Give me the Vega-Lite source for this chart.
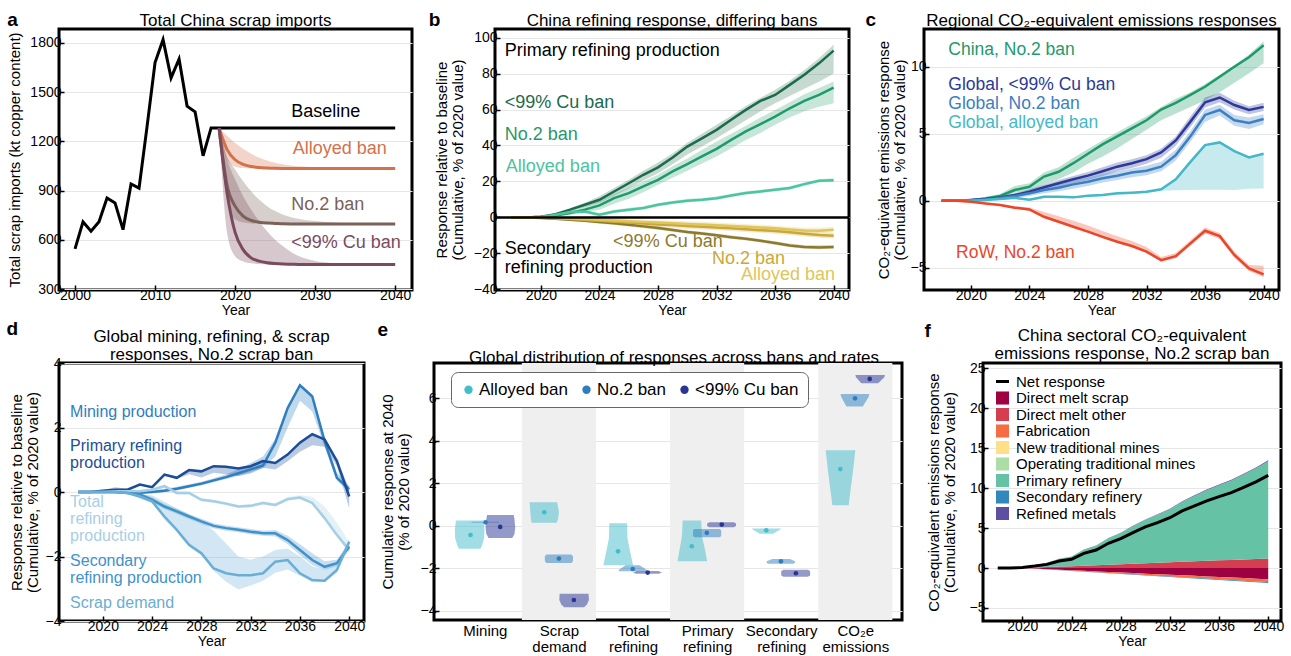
{
"$schema":"https://vega.github.io/schema/vega-lite/v6.json",
"padding":{"left":6,"top":10,"right":0,"bottom":0},
"config":{
 "font":"Liberation Sans",
 "view":{"stroke":"#000000","strokeWidth":3},
 "axis":{"domain":false,"tickColor":"#000000","tickSize":-5,"tickWidth":1.5,"labelPadding":3,"labelFontSize":14,"labelColor":"#000000","titleFontSize":15,"titleFontWeight":"normal","titleColor":"#000000","gridColor":"#e6e6e6","gridWidth":1,"titleLineHeight":16},
 "axisX":{"grid":false,"titleFontSize":14,"titlePadding":1},
 "axisY":{"grid":true,"titlePadding":2,"labelOverlap":false},
 "title":{"fontSize":17,"fontWeight":"normal","color":"#000000","offset":2,"lineHeight":18}
},
"datasets":{
 "a_hist":[{"year":2000,"v":545},{"year":2001,"v":710},{"year":2002,"v":652},{"year":2003,"v":710},{"year":2004,"v":855},{"year":2005,"v":825},{"year":2006,"v":662},{"year":2007,"v":940},{"year":2008,"v":915},{"year":2009,"v":1290},{"year":2010,"v":1680},{"year":2011,"v":1820},{"year":2012,"v":1587},{"year":2013,"v":1702},{"year":2014,"v":1415},{"year":2015,"v":1380},{"year":2016,"v":1112},{"year":2017,"v":1282},{"year":2018,"v":1282},{"year":2040,"v":1282}],
 "a_proj":[
 {"year":2018,"s":"Alloyed ban","v":1280,"lo":1280,"hi":1280},{"year":2019,"s":"Alloyed ban","v":1150,"lo":1085,"hi":1235},{"year":2020,"s":"Alloyed ban","v":1088,"lo":1045,"hi":1190},{"year":2021,"s":"Alloyed ban","v":1060,"lo":1037,"hi":1155},{"year":2022,"s":"Alloyed ban","v":1047,"lo":1035,"hi":1125},{"year":2023,"s":"Alloyed ban","v":1041,"lo":1035,"hi":1100},{"year":2024,"s":"Alloyed ban","v":1038,"lo":1035,"hi":1083},{"year":2025,"s":"Alloyed ban","v":1036,"lo":1035,"hi":1070},{"year":2026,"s":"Alloyed ban","v":1035,"lo":1035,"hi":1060},{"year":2027,"s":"Alloyed ban","v":1035,"lo":1035,"hi":1053},{"year":2028,"s":"Alloyed ban","v":1035,"lo":1035,"hi":1048},{"year":2030,"s":"Alloyed ban","v":1035,"lo":1035,"hi":1042},{"year":2033,"s":"Alloyed ban","v":1035,"lo":1035,"hi":1038},{"year":2036,"s":"Alloyed ban","v":1035,"lo":1035,"hi":1036},{"year":2040,"s":"Alloyed ban","v":1035,"lo":1035,"hi":1035},
 {"year":2018,"s":"No.2 ban","v":1280,"lo":1280,"hi":1280},{"year":2019,"s":"No.2 ban","v":930,"lo":830,"hi":1110},{"year":2020,"s":"No.2 ban","v":805,"lo":725,"hi":1028},{"year":2021,"s":"No.2 ban","v":745,"lo":705,"hi":957},{"year":2022,"s":"No.2 ban","v":718,"lo":700,"hi":896},{"year":2023,"s":"No.2 ban","v":707,"lo":698,"hi":845},{"year":2024,"s":"No.2 ban","v":702,"lo":697,"hi":805},{"year":2025,"s":"No.2 ban","v":700,"lo":697,"hi":775},{"year":2026,"s":"No.2 ban","v":698,"lo":697,"hi":753},{"year":2027,"s":"No.2 ban","v":697,"lo":697,"hi":738},{"year":2028,"s":"No.2 ban","v":697,"lo":697,"hi":727},{"year":2030,"s":"No.2 ban","v":697,"lo":697,"hi":714},{"year":2033,"s":"No.2 ban","v":697,"lo":697,"hi":704},{"year":2036,"s":"No.2 ban","v":697,"lo":697,"hi":699},{"year":2040,"s":"No.2 ban","v":697,"lo":697,"hi":697},
 {"year":2018,"s":"<99% Cu ban","v":1280,"lo":1280,"hi":1280},{"year":2019,"s":"<99% Cu ban","v":885,"lo":640,"hi":1090},{"year":2020,"s":"<99% Cu ban","v":645,"lo":500,"hi":967},{"year":2021,"s":"<99% Cu ban","v":540,"lo":468,"hi":865},{"year":2022,"s":"<99% Cu ban","v":490,"lo":457,"hi":784},{"year":2023,"s":"<99% Cu ban","v":470,"lo":452,"hi":713},{"year":2024,"s":"<99% Cu ban","v":460,"lo":450,"hi":652},{"year":2025,"s":"<99% Cu ban","v":455,"lo":450,"hi":601},{"year":2026,"s":"<99% Cu ban","v":452,"lo":450,"hi":560},{"year":2027,"s":"<99% Cu ban","v":451,"lo":450,"hi":526},{"year":2028,"s":"<99% Cu ban","v":450,"lo":450,"hi":500},{"year":2029,"s":"<99% Cu ban","v":450,"lo":450,"hi":483},{"year":2030,"s":"<99% Cu ban","v":450,"lo":450,"hi":471},{"year":2032,"s":"<99% Cu ban","v":450,"lo":450,"hi":459},{"year":2035,"s":"<99% Cu ban","v":450,"lo":450,"hi":452},{"year":2040,"s":"<99% Cu ban","v":450,"lo":450,"hi":450}],
 "a_lab":[{"year":2027.0,"v":1379,"txt":"Baseline","s":"Baseline"},{"year":2027.2,"v":1154,"txt":"Alloyed ban","s":"Alloyed ban"},{"year":2027.0,"v":814,"txt":"No.2 ban","s":"No.2 ban"},{"year":2027.0,"v":578,"txt":"<99% Cu ban","s":"<99% Cu ban"}],
 "b":[
 {"year":2018,"s":"p99","v":0,"lo":0,"hi":0},{"year":2019,"s":"p99","v":0,"lo":0,"hi":0},{"year":2020,"s":"p99","v":0.4,"lo":0.2,"hi":0.6},{"year":2021,"s":"p99","v":1.8,"lo":1.3,"hi":2.3},{"year":2022,"s":"p99","v":4.3,"lo":3.5,"hi":5.2},{"year":2023,"s":"p99","v":7,"lo":5.8,"hi":8.2},{"year":2024,"s":"p99","v":9.8,"lo":8,"hi":11.7},{"year":2025,"s":"p99","v":14.4,"lo":12,"hi":16.3},{"year":2026,"s":"p99","v":19,"lo":16,"hi":21},{"year":2027,"s":"p99","v":23.7,"lo":20.5,"hi":26},{"year":2028,"s":"p99","v":27.8,"lo":24.6,"hi":30.5},{"year":2029,"s":"p99","v":33.3,"lo":29.5,"hi":35.5},{"year":2030,"s":"p99","v":39.4,"lo":35,"hi":41.5},{"year":2031,"s":"p99","v":44,"lo":39.5,"hi":46.5},{"year":2032,"s":"p99","v":48.7,"lo":44,"hi":51.5},{"year":2033,"s":"p99","v":54.3,"lo":49,"hi":56.5},{"year":2034,"s":"p99","v":59.8,"lo":54,"hi":62},{"year":2035,"s":"p99","v":64.8,"lo":59,"hi":66.5},{"year":2036,"s":"p99","v":68.1,"lo":63.5,"hi":71},{"year":2037,"s":"p99","v":73.7,"lo":67.5,"hi":76},{"year":2038,"s":"p99","v":79.3,"lo":71.5,"hi":82},{"year":2039,"s":"p99","v":85.7,"lo":75.5,"hi":88.5},{"year":2040,"s":"p99","v":92.8,"lo":80,"hi":96},
 {"year":2018,"s":"pNo2","v":0,"lo":0,"hi":0},{"year":2019,"s":"pNo2","v":0,"lo":0,"hi":0},{"year":2020,"s":"pNo2","v":0.3,"lo":0.1,"hi":0.5},{"year":2021,"s":"pNo2","v":1.1,"lo":0.6,"hi":1.6},{"year":2022,"s":"pNo2","v":2.4,"lo":1.5,"hi":3.4},{"year":2023,"s":"pNo2","v":4.3,"lo":2.8,"hi":6},{"year":2024,"s":"pNo2","v":6.7,"lo":4.3,"hi":8.9},{"year":2025,"s":"pNo2","v":10.7,"lo":7.6,"hi":13},{"year":2026,"s":"pNo2","v":13.5,"lo":10.3,"hi":16.5},{"year":2027,"s":"pNo2","v":17.2,"lo":14,"hi":20},{"year":2028,"s":"pNo2","v":20.9,"lo":18.1,"hi":23.7},{"year":2029,"s":"pNo2","v":25.6,"lo":22,"hi":28.5},{"year":2030,"s":"pNo2","v":29.6,"lo":26,"hi":32.8},{"year":2031,"s":"pNo2","v":33.9,"lo":30,"hi":37.5},{"year":2032,"s":"pNo2","v":38.1,"lo":33.9,"hi":42.2},{"year":2033,"s":"pNo2","v":43.1,"lo":38.5,"hi":46.5},{"year":2034,"s":"pNo2","v":47.8,"lo":43,"hi":51},{"year":2035,"s":"pNo2","v":51.9,"lo":47,"hi":55.5},{"year":2036,"s":"pNo2","v":56.1,"lo":51.5,"hi":59.8},{"year":2037,"s":"pNo2","v":60.7,"lo":55.5,"hi":64},{"year":2038,"s":"pNo2","v":64.8,"lo":59,"hi":68.5},{"year":2039,"s":"pNo2","v":68.1,"lo":61.5,"hi":72},{"year":2040,"s":"pNo2","v":72.2,"lo":63.5,"hi":75.6},
 {"year":2018,"s":"pAll","v":0,"lo":0,"hi":0},{"year":2019,"s":"pAll","v":0,"lo":0,"hi":0},{"year":2020,"s":"pAll","v":0.2,"lo":0,"hi":0.5},{"year":2021,"s":"pAll","v":1.5,"lo":0.8,"hi":2.2},{"year":2022,"s":"pAll","v":3,"lo":2,"hi":4},{"year":2023,"s":"pAll","v":3.2,"lo":2.2,"hi":4.2},{"year":2024,"s":"pAll","v":1.5,"lo":0.5,"hi":2.5},{"year":2025,"s":"pAll","v":3.3,"lo":2.3,"hi":4.3},{"year":2026,"s":"pAll","v":4.3,"lo":3.3,"hi":5.3},{"year":2027,"s":"pAll","v":5.2,"lo":4.2,"hi":6.2},{"year":2028,"s":"pAll","v":7,"lo":6,"hi":8},{"year":2029,"s":"pAll","v":8.3,"lo":7.3,"hi":9.3},{"year":2030,"s":"pAll","v":9.3,"lo":8.3,"hi":10.3},{"year":2031,"s":"pAll","v":9.8,"lo":8.8,"hi":10.8},{"year":2032,"s":"pAll","v":10.7,"lo":9.7,"hi":11.7},{"year":2033,"s":"pAll","v":12.2,"lo":11.2,"hi":13.2},{"year":2034,"s":"pAll","v":13.5,"lo":12.5,"hi":14.5},{"year":2035,"s":"pAll","v":14.4,"lo":13.4,"hi":15.4},{"year":2036,"s":"pAll","v":15.4,"lo":14.4,"hi":16.4},{"year":2037,"s":"pAll","v":16.3,"lo":15.3,"hi":17.3},{"year":2038,"s":"pAll","v":18.5,"lo":17.5,"hi":19.5},{"year":2039,"s":"pAll","v":20.4,"lo":19.4,"hi":21.4},{"year":2040,"s":"pAll","v":20.7,"lo":19.7,"hi":21.7},
 {"year":2018,"s":"s99","v":0,"lo":0,"hi":0},{"year":2019,"s":"s99","v":0,"lo":0,"hi":0},{"year":2020,"s":"s99","v":-0.4,"lo":-0.8,"hi":0},{"year":2021,"s":"s99","v":-0.8,"lo":-1.4,"hi":-0.3},{"year":2022,"s":"s99","v":-1.3,"lo":-2,"hi":-0.7},{"year":2023,"s":"s99","v":-1.9,"lo":-2.7,"hi":-1.2},{"year":2024,"s":"s99","v":-2.6,"lo":-3.5,"hi":-1.8},{"year":2025,"s":"s99","v":-3.3,"lo":-4.3,"hi":-2.4},{"year":2026,"s":"s99","v":-4.1,"lo":-5.1,"hi":-3.1},{"year":2027,"s":"s99","v":-5,"lo":-6,"hi":-4},{"year":2028,"s":"s99","v":-5.9,"lo":-6.9,"hi":-4.9},{"year":2029,"s":"s99","v":-7,"lo":-8,"hi":-6},{"year":2030,"s":"s99","v":-8.1,"lo":-9.1,"hi":-7.1},{"year":2031,"s":"s99","v":-9,"lo":-10,"hi":-8},{"year":2032,"s":"s99","v":-10,"lo":-11,"hi":-9},{"year":2033,"s":"s99","v":-11,"lo":-12,"hi":-10},{"year":2034,"s":"s99","v":-11.9,"lo":-12.9,"hi":-10.9},{"year":2035,"s":"s99","v":-13,"lo":-14,"hi":-12},{"year":2036,"s":"s99","v":-14.3,"lo":-15.3,"hi":-13.3},{"year":2037,"s":"s99","v":-15.6,"lo":-16.6,"hi":-14.6},{"year":2038,"s":"s99","v":-16.5,"lo":-17.5,"hi":-15.3},{"year":2039,"s":"s99","v":-16.7,"lo":-17.7,"hi":-15.4},{"year":2040,"s":"s99","v":-16.5,"lo":-17.5,"hi":-15.3},
 {"year":2018,"s":"sNo2","v":0,"lo":0,"hi":0},{"year":2019,"s":"sNo2","v":0,"lo":0,"hi":0},{"year":2020,"s":"sNo2","v":-0.2,"lo":-0.6,"hi":0},{"year":2021,"s":"sNo2","v":-0.5,"lo":-1.1,"hi":0},{"year":2022,"s":"sNo2","v":-0.9,"lo":-1.8,"hi":-0.2},{"year":2023,"s":"sNo2","v":-1.4,"lo":-2.5,"hi":-0.5},{"year":2024,"s":"sNo2","v":-1.9,"lo":-3.2,"hi":-0.8},{"year":2025,"s":"sNo2","v":-2.4,"lo":-3.8,"hi":-1.1},{"year":2026,"s":"sNo2","v":-2.9,"lo":-4.4,"hi":-1.5},{"year":2027,"s":"sNo2","v":-3.4,"lo":-4.9,"hi":-1.9},{"year":2028,"s":"sNo2","v":-3.9,"lo":-5.4,"hi":-2.4},{"year":2029,"s":"sNo2","v":-4.3,"lo":-5.8,"hi":-2.8},{"year":2030,"s":"sNo2","v":-4.8,"lo":-6.3,"hi":-3.3},{"year":2031,"s":"sNo2","v":-5.2,"lo":-6.7,"hi":-3.7},{"year":2032,"s":"sNo2","v":-5.6,"lo":-7.1,"hi":-4.1},{"year":2033,"s":"sNo2","v":-6.1,"lo":-7.6,"hi":-4.6},{"year":2034,"s":"sNo2","v":-6.6,"lo":-8.1,"hi":-5.1},{"year":2035,"s":"sNo2","v":-7.1,"lo":-8.6,"hi":-5.6},{"year":2036,"s":"sNo2","v":-7.6,"lo":-9.1,"hi":-6.1},{"year":2037,"s":"sNo2","v":-8.3,"lo":-9.8,"hi":-6.8},{"year":2038,"s":"sNo2","v":-9.1,"lo":-10.6,"hi":-7.6},{"year":2039,"s":"sNo2","v":-9.8,"lo":-11.3,"hi":-8.3},{"year":2040,"s":"sNo2","v":-10.2,"lo":-11.7,"hi":-8.7},
 {"year":2018,"s":"sAll","v":0,"lo":0,"hi":0},{"year":2019,"s":"sAll","v":0,"lo":0,"hi":0},{"year":2020,"s":"sAll","v":-0.1,"lo":-0.4,"hi":0},{"year":2021,"s":"sAll","v":-0.3,"lo":-0.8,"hi":0},{"year":2022,"s":"sAll","v":-0.6,"lo":-1.3,"hi":0},{"year":2023,"s":"sAll","v":-0.9,"lo":-1.8,"hi":-0.1},{"year":2024,"s":"sAll","v":-1.3,"lo":-2.3,"hi":-0.4},{"year":2025,"s":"sAll","v":-1.7,"lo":-2.9,"hi":-0.7},{"year":2026,"s":"sAll","v":-2.1,"lo":-3.4,"hi":-1},{"year":2027,"s":"sAll","v":-2.5,"lo":-3.9,"hi":-1.2},{"year":2028,"s":"sAll","v":-2.9,"lo":-4.4,"hi":-1.5},{"year":2029,"s":"sAll","v":-3.3,"lo":-4.8,"hi":-1.8},{"year":2030,"s":"sAll","v":-3.7,"lo":-5.2,"hi":-2.2},{"year":2031,"s":"sAll","v":-4,"lo":-5.5,"hi":-2.5},{"year":2032,"s":"sAll","v":-4.4,"lo":-5.9,"hi":-2.9},{"year":2033,"s":"sAll","v":-4.8,"lo":-6.3,"hi":-3.3},{"year":2034,"s":"sAll","v":-5.2,"lo":-6.7,"hi":-3.7},{"year":2035,"s":"sAll","v":-5.6,"lo":-7.1,"hi":-4.1},{"year":2036,"s":"sAll","v":-6.1,"lo":-7.6,"hi":-4.6},{"year":2037,"s":"sAll","v":-6.7,"lo":-8.2,"hi":-5.2},{"year":2038,"s":"sAll","v":-7.3,"lo":-8.8,"hi":-5.8},{"year":2039,"s":"sAll","v":-7.4,"lo":-8.9,"hi":-5.7},{"year":2040,"s":"sAll","v":-6.9,"lo":-8.4,"hi":-5.2}],
 "b_lab":[{"year":2017.52,"v":92.4,"txt":"Primary refining production","s":"lab"},{"year":2017.52,"v":63.5,"txt":"<99% Cu ban","s":"p99"},{"year":2017.52,"v":45.8,"txt":"No.2 ban","s":"pNo2"},{"year":2017.6,"v":28.2,"txt":"Alloyed ban","s":"pAll"},{"year":2017.52,"v":-17.8,"txt":"Secondary","s":"lab"},{"year":2017.52,"v":-28.4,"txt":"refining production","s":"lab"},{"year":2024.93,"v":-13.6,"txt":"<99% Cu  ban","s":"s99"},{"year":2031.69,"v":-23.0,"txt":"No.2  ban","s":"sNo2"},{"year":2033.67,"v":-32.3,"txt":"Alloyed ban","s":"sAll"}],
 "c":[
 {"year":2018,"s":"china","v":0,"lo":0,"hi":0},{"year":2019,"s":"china","v":0,"lo":0,"hi":0},{"year":2020,"s":"china","v":0.03,"lo":0,"hi":0.1},{"year":2021,"s":"china","v":0.17,"lo":0.1,"hi":0.3},{"year":2022,"s":"china","v":0.35,"lo":0.25,"hi":0.5},{"year":2023,"s":"china","v":0.8,"lo":0.6,"hi":1.1},{"year":2024,"s":"china","v":1.04,"lo":0.75,"hi":1.3},{"year":2025,"s":"china","v":1.8,"lo":1.2,"hi":2.1},{"year":2026,"s":"china","v":2.16,"lo":1.6,"hi":2.5},{"year":2027,"s":"china","v":2.8,"lo":2.1,"hi":3.2},{"year":2028,"s":"china","v":3.5,"lo":2.75,"hi":3.85},{"year":2029,"s":"china","v":4.2,"lo":3.3,"hi":4.5},{"year":2030,"s":"china","v":4.8,"lo":3.9,"hi":5.1},{"year":2031,"s":"china","v":5.4,"lo":4.6,"hi":5.7},{"year":2032,"s":"china","v":6.0,"lo":5.3,"hi":6.3},{"year":2033,"s":"china","v":6.8,"lo":6.0,"hi":7.0},{"year":2034,"s":"china","v":7.3,"lo":6.5,"hi":7.6},{"year":2035,"s":"china","v":7.9,"lo":7.0,"hi":8.1},{"year":2036,"s":"china","v":8.5,"lo":7.5,"hi":8.7},{"year":2037,"s":"china","v":9.25,"lo":8.1,"hi":9.4},{"year":2038,"s":"china","v":10,"lo":8.8,"hi":10.1},{"year":2039,"s":"china","v":10.7,"lo":9.5,"hi":10.9},{"year":2040,"s":"china","v":11.6,"lo":10.25,"hi":11.9},
 {"year":2018,"s":"g99","v":0,"lo":0,"hi":0},{"year":2019,"s":"g99","v":0,"lo":0,"hi":0},{"year":2020,"s":"g99","v":0.05,"lo":0,"hi":0.1},{"year":2021,"s":"g99","v":0.12,"lo":0.05,"hi":0.2},{"year":2022,"s":"g99","v":0.25,"lo":0.12,"hi":0.35},{"year":2023,"s":"g99","v":0.42,"lo":0.25,"hi":0.55},{"year":2024,"s":"g99","v":0.67,"lo":0.45,"hi":0.85},{"year":2025,"s":"g99","v":1.0,"lo":0.75,"hi":1.2},{"year":2026,"s":"g99","v":1.3,"lo":1.0,"hi":1.55},{"year":2027,"s":"g99","v":1.6,"lo":1.3,"hi":1.85},{"year":2028,"s":"g99","v":1.87,"lo":1.55,"hi":2.15},{"year":2029,"s":"g99","v":2.2,"lo":1.85,"hi":2.5},{"year":2030,"s":"g99","v":2.54,"lo":2.2,"hi":2.85},{"year":2031,"s":"g99","v":2.8,"lo":2.45,"hi":3.1},{"year":2032,"s":"g99","v":3.1,"lo":2.75,"hi":3.4},{"year":2033,"s":"g99","v":3.6,"lo":3.2,"hi":3.9},{"year":2034,"s":"g99","v":4.5,"lo":4.1,"hi":4.8},{"year":2035,"s":"g99","v":5.9,"lo":5.5,"hi":6.3},{"year":2036,"s":"g99","v":7.34,"lo":6.95,"hi":7.7},{"year":2037,"s":"g99","v":7.7,"lo":7.35,"hi":8.05},{"year":2038,"s":"g99","v":7.14,"lo":6.8,"hi":7.45},{"year":2039,"s":"g99","v":6.77,"lo":6.45,"hi":7.05},{"year":2040,"s":"g99","v":7.0,"lo":6.7,"hi":7.3},
 {"year":2018,"s":"gNo2","v":0,"lo":0,"hi":0},{"year":2019,"s":"gNo2","v":0,"lo":0,"hi":0},{"year":2020,"s":"gNo2","v":0.03,"lo":0,"hi":0.06},{"year":2021,"s":"gNo2","v":0.1,"lo":0.04,"hi":0.15},{"year":2022,"s":"gNo2","v":0.2,"lo":0.1,"hi":0.3},{"year":2023,"s":"gNo2","v":0.35,"lo":0.2,"hi":0.5},{"year":2024,"s":"gNo2","v":0.55,"lo":0.35,"hi":0.75},{"year":2025,"s":"gNo2","v":0.8,"lo":0.55,"hi":1.05},{"year":2026,"s":"gNo2","v":0.97,"lo":0.7,"hi":1.25},{"year":2027,"s":"gNo2","v":1.22,"lo":0.9,"hi":1.5},{"year":2028,"s":"gNo2","v":1.42,"lo":1.1,"hi":1.75},{"year":2029,"s":"gNo2","v":1.67,"lo":1.35,"hi":2.0},{"year":2030,"s":"gNo2","v":1.87,"lo":1.55,"hi":2.2},{"year":2031,"s":"gNo2","v":2.1,"lo":1.75,"hi":2.4},{"year":2032,"s":"gNo2","v":2.24,"lo":1.9,"hi":2.6},{"year":2033,"s":"gNo2","v":2.54,"lo":2.2,"hi":2.9},{"year":2034,"s":"gNo2","v":3.4,"lo":3.0,"hi":3.8},{"year":2035,"s":"gNo2","v":4.8,"lo":4.4,"hi":5.2},{"year":2036,"s":"gNo2","v":6.4,"lo":5.9,"hi":6.8},{"year":2037,"s":"gNo2","v":6.77,"lo":6.35,"hi":7.15},{"year":2038,"s":"gNo2","v":6.0,"lo":5.6,"hi":6.4},{"year":2039,"s":"gNo2","v":5.8,"lo":5.35,"hi":6.2},{"year":2040,"s":"gNo2","v":6.1,"lo":5.7,"hi":6.45},
 {"year":2018,"s":"gAll","v":0,"lo":0,"hi":0},{"year":2019,"s":"gAll","v":0,"lo":0,"hi":0},{"year":2020,"s":"gAll","v":0,"lo":0,"hi":0.02},{"year":2021,"s":"gAll","v":0.06,"lo":0.02,"hi":0.09},{"year":2022,"s":"gAll","v":0.12,"lo":0.05,"hi":0.16},{"year":2023,"s":"gAll","v":0.22,"lo":0.12,"hi":0.27},{"year":2024,"s":"gAll","v":0.07,"lo":0,"hi":0.12},{"year":2025,"s":"gAll","v":0.3,"lo":0.2,"hi":0.35},{"year":2026,"s":"gAll","v":0.3,"lo":0.2,"hi":0.35},{"year":2027,"s":"gAll","v":0.25,"lo":0.2,"hi":0.3},{"year":2028,"s":"gAll","v":0.37,"lo":0.3,"hi":0.42},{"year":2029,"s":"gAll","v":0.42,"lo":0.35,"hi":0.47},{"year":2030,"s":"gAll","v":0.55,"lo":0.45,"hi":0.6},{"year":2031,"s":"gAll","v":0.6,"lo":0.5,"hi":0.65},{"year":2032,"s":"gAll","v":0.67,"lo":0.58,"hi":0.72},{"year":2033,"s":"gAll","v":0.85,"lo":0.75,"hi":0.9},{"year":2034,"s":"gAll","v":1.6,"lo":0.78,"hi":1.65},{"year":2035,"s":"gAll","v":2.9,"lo":0.8,"hi":2.95},{"year":2036,"s":"gAll","v":4.15,"lo":0.82,"hi":4.2},{"year":2037,"s":"gAll","v":4.35,"lo":0.82,"hi":4.4},{"year":2038,"s":"gAll","v":3.7,"lo":0.8,"hi":3.75},{"year":2039,"s":"gAll","v":3.23,"lo":0.9,"hi":3.28},{"year":2040,"s":"gAll","v":3.5,"lo":0.92,"hi":3.55},
 {"year":2018,"s":"row","v":0,"lo":0,"hi":0},{"year":2019,"s":"row","v":0,"lo":0,"hi":0},{"year":2020,"s":"row","v":-0.07,"lo":-0.1,"hi":-0.04},{"year":2021,"s":"row","v":-0.2,"lo":-0.25,"hi":-0.15},{"year":2022,"s":"row","v":-0.32,"lo":-0.4,"hi":-0.25},{"year":2023,"s":"row","v":-0.52,"lo":-0.6,"hi":-0.4},{"year":2024,"s":"row","v":-0.65,"lo":-0.75,"hi":-0.5},{"year":2025,"s":"row","v":-1.2,"lo":-1.3,"hi":-0.85},{"year":2026,"s":"row","v":-1.57,"lo":-1.67,"hi":-1.15},{"year":2027,"s":"row","v":-1.94,"lo":-2.04,"hi":-1.5},{"year":2028,"s":"row","v":-2.31,"lo":-2.41,"hi":-1.85},{"year":2029,"s":"row","v":-2.7,"lo":-2.8,"hi":-2.25},{"year":2030,"s":"row","v":-3.06,"lo":-3.16,"hi":-2.65},{"year":2031,"s":"row","v":-3.38,"lo":-3.48,"hi":-3.0},{"year":2032,"s":"row","v":-3.8,"lo":-3.9,"hi":-3.45},{"year":2033,"s":"row","v":-4.43,"lo":-4.55,"hi":-4.2},{"year":2034,"s":"row","v":-4.13,"lo":-4.3,"hi":-3.9},{"year":2035,"s":"row","v":-3.18,"lo":-3.35,"hi":-2.95},{"year":2036,"s":"row","v":-2.24,"lo":-2.45,"hi":-2.0},{"year":2037,"s":"row","v":-2.64,"lo":-2.85,"hi":-2.4},{"year":2038,"s":"row","v":-4.05,"lo":-4.25,"hi":-3.8},{"year":2039,"s":"row","v":-5.05,"lo":-5.25,"hi":-4.8},{"year":2040,"s":"row","v":-5.5,"lo":-5.7,"hi":-4.85}],
 "c_lab":[{"year":2018.46,"v":11.22,"txt":"China, No.2  ban","s":"china"},{"year":2018.46,"v":8.62,"txt":"Global, <99% Cu  ban","s":"g99"},{"year":2018.46,"v":7.22,"txt":"Global, No.2 ban","s":"gNo2"},{"year":2018.46,"v":5.8,"txt":"Global, alloyed ban","s":"gAll"},{"year":2018.99,"v":-3.93,"txt":"RoW, No.2  ban","s":"row"}],
 "d":[
 {"year":2018,"s":"mine","v":0,"lo":0,"hi":0},{"year":2019,"s":"mine","v":0,"lo":0,"hi":0},{"year":2020,"s":"mine","v":0,"lo":0,"hi":0.02},{"year":2021,"s":"mine","v":0,"lo":-0.03,"hi":0.03},{"year":2022,"s":"mine","v":-0.02,"lo":-0.05,"hi":0.02},{"year":2023,"s":"mine","v":-0.02,"lo":-0.05,"hi":0.03},{"year":2024,"s":"mine","v":0,"lo":-0.03,"hi":0.05},{"year":2025,"s":"mine","v":0.04,"lo":0,"hi":0.1},{"year":2026,"s":"mine","v":0.1,"lo":0.05,"hi":0.16},{"year":2027,"s":"mine","v":0.18,"lo":0.13,"hi":0.24},{"year":2028,"s":"mine","v":0.26,"lo":0.2,"hi":0.32},{"year":2029,"s":"mine","v":0.36,"lo":0.3,"hi":0.43},{"year":2030,"s":"mine","v":0.46,"lo":0.4,"hi":0.55},{"year":2031,"s":"mine","v":0.58,"lo":0.5,"hi":0.7},{"year":2032,"s":"mine","v":0.7,"lo":0.62,"hi":0.9},{"year":2033,"s":"mine","v":0.82,"lo":0.74,"hi":1.1},{"year":2034,"s":"mine","v":1.53,"lo":1.1,"hi":1.65},{"year":2035,"s":"mine","v":2.6,"lo":2.0,"hi":2.7},{"year":2036,"s":"mine","v":3.31,"lo":2.83,"hi":3.36},{"year":2037,"s":"mine","v":2.96,"lo":2.5,"hi":3.02},{"year":2038,"s":"mine","v":1.58,"lo":1.4,"hi":1.7},{"year":2039,"s":"mine","v":0.44,"lo":0.35,"hi":0.6},{"year":2040,"s":"mine","v":0.09,"lo":0,"hi":0.18},
 {"year":2018,"s":"prim","v":0,"lo":0,"hi":0},{"year":2019,"s":"prim","v":0,"lo":0,"hi":0},{"year":2020,"s":"prim","v":0.04,"lo":0.02,"hi":0.06},{"year":2021,"s":"prim","v":0.07,"lo":0.04,"hi":0.15},{"year":2022,"s":"prim","v":0.07,"lo":0.05,"hi":0.1},{"year":2023,"s":"prim","v":0.23,"lo":0.2,"hi":0.27},{"year":2024,"s":"prim","v":0.15,"lo":0.12,"hi":0.18},{"year":2025,"s":"prim","v":0.54,"lo":0.5,"hi":0.57},{"year":2026,"s":"prim","v":0.44,"lo":0.4,"hi":0.47},{"year":2027,"s":"prim","v":0.68,"lo":0.55,"hi":0.71},{"year":2028,"s":"prim","v":0.64,"lo":0.45,"hi":0.67},{"year":2029,"s":"prim","v":0.8,"lo":0.6,"hi":0.83},{"year":2030,"s":"prim","v":0.78,"lo":0.55,"hi":0.81},{"year":2031,"s":"prim","v":0.73,"lo":0.5,"hi":0.76},{"year":2032,"s":"prim","v":0.8,"lo":0.57,"hi":0.83},{"year":2033,"s":"prim","v":0.96,"lo":0.75,"hi":0.99},{"year":2034,"s":"prim","v":0.9,"lo":0.7,"hi":0.93},{"year":2035,"s":"prim","v":1.16,"lo":0.95,"hi":1.2},{"year":2036,"s":"prim","v":1.53,"lo":1.25,"hi":1.57},{"year":2037,"s":"prim","v":1.79,"lo":1.45,"hi":1.83},{"year":2038,"s":"prim","v":1.63,"lo":1.4,"hi":1.66},{"year":2039,"s":"prim","v":0.96,"lo":0.8,"hi":1.0},{"year":2040,"s":"prim","v":-0.14,"lo":-0.5,"hi":0.12},
 {"year":2018,"s":"tot","v":0,"lo":0,"hi":0},{"year":2019,"s":"tot","v":0,"lo":0,"hi":0},{"year":2020,"s":"tot","v":0,"lo":-0.02,"hi":0.02},{"year":2021,"s":"tot","v":0.02,"lo":-0.03,"hi":0.07},{"year":2022,"s":"tot","v":0.02,"lo":-0.03,"hi":0.07},{"year":2023,"s":"tot","v":0.02,"lo":-0.03,"hi":0.07},{"year":2024,"s":"tot","v":0.07,"lo":0.02,"hi":0.12},{"year":2025,"s":"tot","v":0.18,"lo":0.13,"hi":0.23},{"year":2026,"s":"tot","v":-0.03,"lo":-0.08,"hi":0.02},{"year":2027,"s":"tot","v":-0.03,"lo":-0.08,"hi":0.02},{"year":2028,"s":"tot","v":-0.24,"lo":-0.29,"hi":-0.19},{"year":2029,"s":"tot","v":-0.29,"lo":-0.34,"hi":-0.24},{"year":2030,"s":"tot","v":-0.36,"lo":-0.41,"hi":-0.31},{"year":2031,"s":"tot","v":-0.45,"lo":-0.5,"hi":-0.4},{"year":2032,"s":"tot","v":-0.43,"lo":-0.48,"hi":-0.38},{"year":2033,"s":"tot","v":-0.34,"lo":-0.39,"hi":-0.29},{"year":2034,"s":"tot","v":-0.4,"lo":-0.45,"hi":-0.35},{"year":2035,"s":"tot","v":-0.22,"lo":-0.27,"hi":-0.15},{"year":2036,"s":"tot","v":-0.17,"lo":-0.22,"hi":-0.1},{"year":2037,"s":"tot","v":-0.34,"lo":-0.39,"hi":-0.15},{"year":2038,"s":"tot","v":-0.81,"lo":-0.86,"hi":-0.45},{"year":2039,"s":"tot","v":-1.33,"lo":-1.38,"hi":-0.95},{"year":2040,"s":"tot","v":-1.8,"lo":-1.9,"hi":-1.55},
 {"year":2018,"s":"sec","v":0,"lo":0,"hi":0},{"year":2019,"s":"sec","v":0,"lo":0,"hi":0},{"year":2020,"s":"sec","v":0,"lo":-0.02,"hi":0.02},{"year":2021,"s":"sec","v":0,"lo":-0.03,"hi":0.03},{"year":2022,"s":"sec","v":-0.03,"lo":-0.07,"hi":0.01},{"year":2023,"s":"sec","v":-0.08,"lo":-0.14,"hi":-0.02},{"year":2024,"s":"sec","v":-0.24,"lo":-0.32,"hi":-0.16},{"year":2025,"s":"sec","v":-0.45,"lo":-0.53,"hi":-0.37},{"year":2026,"s":"sec","v":-0.6,"lo":-0.68,"hi":-0.52},{"year":2027,"s":"sec","v":-0.76,"lo":-0.84,"hi":-0.68},{"year":2028,"s":"sec","v":-0.91,"lo":-0.99,"hi":-0.83},{"year":2029,"s":"sec","v":-1.05,"lo":-1.13,"hi":-0.97},{"year":2030,"s":"sec","v":-1.12,"lo":-1.2,"hi":-1.04},{"year":2031,"s":"sec","v":-1.17,"lo":-1.25,"hi":-1.09},{"year":2032,"s":"sec","v":-1.23,"lo":-1.31,"hi":-1.15},{"year":2033,"s":"sec","v":-1.28,"lo":-1.36,"hi":-1.2},{"year":2034,"s":"sec","v":-1.28,"lo":-1.38,"hi":-1.18},{"year":2035,"s":"sec","v":-1.49,"lo":-1.62,"hi":-1.36},{"year":2036,"s":"sec","v":-1.8,"lo":-1.95,"hi":-1.62},{"year":2037,"s":"sec","v":-2.11,"lo":-2.26,"hi":-1.9},{"year":2038,"s":"sec","v":-2.32,"lo":-2.42,"hi":-2.15},{"year":2039,"s":"sec","v":-2.21,"lo":-2.3,"hi":-2.1},{"year":2040,"s":"sec","v":-1.69,"lo":-1.8,"hi":-1.55},
 {"year":2018,"s":"scrap","v":0,"lo":0,"hi":0},{"year":2019,"s":"scrap","v":0,"lo":0,"hi":0},{"year":2020,"s":"scrap","v":0,"lo":-0.02,"hi":0.02},{"year":2021,"s":"scrap","v":0,"lo":-0.02,"hi":0.02},{"year":2022,"s":"scrap","v":-0.03,"lo":-0.05,"hi":0},{"year":2023,"s":"scrap","v":-0.14,"lo":-0.2,"hi":-0.08},{"year":2024,"s":"scrap","v":-0.29,"lo":-0.35,"hi":-0.1},{"year":2025,"s":"scrap","v":-0.76,"lo":-0.85,"hi":-0.3},{"year":2026,"s":"scrap","v":-1.17,"lo":-1.25,"hi":-0.5},{"year":2027,"s":"scrap","v":-1.64,"lo":-1.7,"hi":-0.7},{"year":2028,"s":"scrap","v":-1.9,"lo":-1.97,"hi":-0.9},{"year":2029,"s":"scrap","v":-2.37,"lo":-2.45,"hi":-1.2},{"year":2030,"s":"scrap","v":-2.52,"lo":-2.78,"hi":-1.6},{"year":2031,"s":"scrap","v":-2.58,"lo":-3.02,"hi":-2.0},{"year":2032,"s":"scrap","v":-2.58,"lo":-2.9,"hi":-2.1},{"year":2033,"s":"scrap","v":-2.52,"lo":-2.75,"hi":-2.0},{"year":2034,"s":"scrap","v":-2.16,"lo":-2.5,"hi":-1.8},{"year":2035,"s":"scrap","v":-2.11,"lo":-2.4,"hi":-1.75},{"year":2036,"s":"scrap","v":-2.52,"lo":-2.6,"hi":-2.0},{"year":2037,"s":"scrap","v":-2.73,"lo":-2.8,"hi":-2.3},{"year":2038,"s":"scrap","v":-2.75,"lo":-2.8,"hi":-2.4},{"year":2039,"s":"scrap","v":-2.42,"lo":-2.5,"hi":-2.2},{"year":2040,"s":"scrap","v":-1.54,"lo":-1.6,"hi":-1.45}],
 "d_lab":[{"year":2017.34,"v":2.49,"txt":"Mining production","s":"mine"},{"year":2017.34,"v":1.42,"txt":"Primary refining","s":"prim"},{"year":2017.34,"v":0.9,"txt":"production","s":"prim"},{"year":2017.34,"v":-0.31,"txt":"Total","s":"tot"},{"year":2017.34,"v":-0.83,"txt":"refining","s":"tot"},{"year":2017.34,"v":-1.35,"txt":"production","s":"tot"},{"year":2017.34,"v":-2.15,"txt":"Secondary","s":"sec"},{"year":2017.34,"v":-2.68,"txt":"refining production","s":"sec"},{"year":2017.34,"v":-3.44,"txt":"Scrap demand","s":"scrap"}],
 "e_band":[{"lo":0.5,"hi":1.5},{"lo":2.5,"hi":3.5},{"lo":4.5,"hi":5.5}],
 "e_viol":[
 {"vid":"mA","ban":"Alloyed ban","v":0.24,"l":-0.39,"r":-0.02},{"vid":"mA","ban":"Alloyed ban","v":-0.2,"l":-0.405,"r":-0.005},{"vid":"mA","ban":"Alloyed ban","v":-0.6,"l":-0.4,"r":-0.01},{"vid":"mA","ban":"Alloyed ban","v":-0.95,"l":-0.37,"r":-0.04},{"vid":"mA","ban":"Alloyed ban","v":-1.09,"l":-0.35,"r":-0.06},
 {"vid":"mN","ban":"No.2 ban","v":0.18,"l":-0.18,"r":0.19},{"vid":"mN","ban":"No.2 ban","v":0.14,"l":-0.18,"r":0.19},
 {"vid":"mU","ban":"<99% Cu ban","v":0.5,"l":0.03,"r":0.39},{"vid":"mU","ban":"<99% Cu ban","v":0.3,"l":0.02,"r":0.4},{"vid":"mU","ban":"<99% Cu ban","v":-0.1,"l":0.01,"r":0.41},{"vid":"mU","ban":"<99% Cu ban","v":-0.4,"l":0.02,"r":0.4},{"vid":"mU","ban":"<99% Cu ban","v":-0.58,"l":0.05,"r":0.37},
 {"vid":"sA","ban":"Alloyed ban","v":1.1,"l":0.605,"r":0.975},{"vid":"sA","ban":"Alloyed ban","v":0.85,"l":0.61,"r":0.99},{"vid":"sA","ban":"Alloyed ban","v":0.6,"l":0.615,"r":1.0},{"vid":"sA","ban":"Alloyed ban","v":0.35,"l":0.62,"r":0.99},{"vid":"sA","ban":"Alloyed ban","v":0.14,"l":0.63,"r":0.97},
 {"vid":"sN","ban":"No.2 ban","v":-1.36,"l":0.83,"r":1.17},{"vid":"sN","ban":"No.2 ban","v":-1.45,"l":0.81,"r":1.19},{"vid":"sN","ban":"No.2 ban","v":-1.67,"l":0.81,"r":1.19},{"vid":"sN","ban":"No.2 ban","v":-1.76,"l":0.83,"r":1.17},
 {"vid":"sU","ban":"<99% Cu ban","v":-3.21,"l":1.01,"r":1.4},{"vid":"sU","ban":"<99% Cu ban","v":-3.5,"l":1.005,"r":1.405},{"vid":"sU","ban":"<99% Cu ban","v":-3.7,"l":1.03,"r":1.38},{"vid":"sU","ban":"<99% Cu ban","v":-3.84,"l":1.07,"r":1.34},
 {"vid":"tA","ban":"Alloyed ban","v":0.11,"l":1.68,"r":1.92},{"vid":"tA","ban":"Alloyed ban","v":-0.6,"l":1.675,"r":1.925},{"vid":"tA","ban":"Alloyed ban","v":-1.2,"l":1.64,"r":1.96},{"vid":"tA","ban":"Alloyed ban","v":-1.87,"l":1.6,"r":2.0},
 {"vid":"tN","ban":"No.2 ban","v":-1.87,"l":1.9,"r":2.09},{"vid":"tN","ban":"No.2 ban","v":-2.05,"l":1.82,"r":2.17},{"vid":"tN","ban":"No.2 ban","v":-2.15,"l":1.8,"r":2.19},
 {"vid":"tU","ban":"<99% Cu ban","v":-2.13,"l":2.05,"r":2.34},{"vid":"tU","ban":"<99% Cu ban","v":-2.2,"l":2.0,"r":2.39},{"vid":"tU","ban":"<99% Cu ban","v":-2.27,"l":2.04,"r":2.35},
 {"vid":"pA","ban":"Alloyed ban","v":0.235,"l":2.67,"r":2.92},{"vid":"pA","ban":"Alloyed ban","v":-0.5,"l":2.66,"r":2.93},{"vid":"pA","ban":"Alloyed ban","v":-1.1,"l":2.63,"r":2.97},{"vid":"pA","ban":"Alloyed ban","v":-1.68,"l":2.6,"r":3.0},
 {"vid":"pN","ban":"No.2 ban","v":-0.16,"l":2.83,"r":3.17},{"vid":"pN","ban":"No.2 ban","v":-0.22,"l":2.81,"r":3.19},{"vid":"pN","ban":"No.2 ban","v":-0.49,"l":2.81,"r":3.19},{"vid":"pN","ban":"No.2 ban","v":-0.55,"l":2.83,"r":3.17},
 {"vid":"pU","ban":"<99% Cu ban","v":0.16,"l":3.03,"r":3.36},{"vid":"pU","ban":"<99% Cu ban","v":0.1,"l":3.0,"r":3.39},{"vid":"pU","ban":"<99% Cu ban","v":-0.02,"l":3.0,"r":3.39},{"vid":"pU","ban":"<99% Cu ban","v":-0.08,"l":3.03,"r":3.36},
 {"vid":"rA","ban":"Alloyed ban","v":-0.14,"l":3.6,"r":4.0},{"vid":"rA","ban":"Alloyed ban","v":-0.2,"l":3.62,"r":3.98},{"vid":"rA","ban":"Alloyed ban","v":-0.38,"l":3.71,"r":3.89},
 {"vid":"rN","ban":"No.2 ban","v":-1.57,"l":3.88,"r":4.12},{"vid":"rN","ban":"No.2 ban","v":-1.66,"l":3.81,"r":4.18},{"vid":"rN","ban":"No.2 ban","v":-1.72,"l":3.8,"r":4.19},{"vid":"rN","ban":"No.2 ban","v":-1.79,"l":3.82,"r":4.17},
 {"vid":"rU","ban":"<99% Cu ban","v":-2.08,"l":4.03,"r":4.36},{"vid":"rU","ban":"<99% Cu ban","v":-2.14,"l":4.0,"r":4.39},{"vid":"rU","ban":"<99% Cu ban","v":-2.35,"l":4.0,"r":4.39},{"vid":"rU","ban":"<99% Cu ban","v":-2.41,"l":4.03,"r":4.36},
 {"vid":"cA","ban":"Alloyed ban","v":3.54,"l":4.6,"r":5.0},{"vid":"cA","ban":"Alloyed ban","v":2.6,"l":4.63,"r":4.97},{"vid":"cA","ban":"Alloyed ban","v":0.96,"l":4.69,"r":4.91},
 {"vid":"cN","ban":"No.2 ban","v":6.19,"l":4.8,"r":5.19},{"vid":"cN","ban":"No.2 ban","v":6.05,"l":4.81,"r":5.18},{"vid":"cN","ban":"No.2 ban","v":5.6,"l":4.88,"r":5.1},
 {"vid":"cU","ban":"<99% Cu ban","v":7.08,"l":5.0,"r":5.4},{"vid":"cU","ban":"<99% Cu ban","v":6.98,"l":5.01,"r":5.39},{"vid":"cU","ban":"<99% Cu ban","v":6.7,"l":5.08,"r":5.31}],
 "e_pt":[{"pos":-0.193,"v":-0.44,"ban":"Alloyed ban"},{"pos":0.009,"v":0.157,"ban":"No.2 ban"},{"pos":0.207,"v":-0.06,"ban":"<99% Cu ban"},{"pos":0.802,"v":0.63,"ban":"Alloyed ban"},{"pos":1.0,"v":-1.55,"ban":"No.2 ban"},{"pos":1.202,"v":-3.5,"ban":"<99% Cu ban"},{"pos":1.798,"v":-1.21,"ban":"Alloyed ban"},{"pos":1.996,"v":-2.04,"ban":"No.2 ban"},{"pos":2.198,"v":-2.21,"ban":"<99% Cu ban"},{"pos":2.793,"v":-0.97,"ban":"Alloyed ban"},{"pos":2.996,"v":-0.34,"ban":"No.2 ban"},{"pos":3.198,"v":0.05,"ban":"<99% Cu ban"},{"pos":3.798,"v":-0.22,"ban":"Alloyed ban"},{"pos":3.996,"v":-1.68,"ban":"No.2 ban"},{"pos":4.198,"v":-2.24,"ban":"<99% Cu ban"},{"pos":4.798,"v":2.66,"ban":"Alloyed ban"},{"pos":4.996,"v":5.99,"ban":"No.2 ban"},{"pos":5.194,"v":6.9,"ban":"<99% Cu ban"}],
 "f":[
 {"year":2018,"Net response":0,"Direct melt scrap":0,"Direct melt other":0,"Fabrication":0,"Primary refinery":0,"Secondary refinery":0,"Refined metals":0},
 {"year":2019,"Net response":0,"Direct melt scrap":0,"Direct melt other":0,"Fabrication":0,"Primary refinery":0,"Secondary refinery":0,"Refined metals":0},
 {"year":2020,"Net response":0.08,"Direct melt scrap":0,"Direct melt other":0,"Fabrication":0,"Primary refinery":0.08,"Secondary refinery":0,"Refined metals":0},
 {"year":2021,"Net response":0.25,"Direct melt scrap":-0.07,"Direct melt other":0.06,"Fabrication":-0.02,"Primary refinery":0.28,"Secondary refinery":-0.01,"Refined metals":0.01},
 {"year":2022,"Net response":0.46,"Direct melt scrap":-0.14,"Direct melt other":0.12,"Fabrication":-0.04,"Primary refinery":0.52,"Secondary refinery":-0.01,"Refined metals":0.01},
 {"year":2023,"Net response":0.88,"Direct melt scrap":-0.21,"Direct melt other":0.18,"Fabrication":-0.05,"Primary refinery":0.96,"Secondary refinery":-0.02,"Refined metals":0.02},
 {"year":2024,"Net response":1.09,"Direct melt scrap":-0.28,"Direct melt other":0.24,"Fabrication":-0.07,"Primary refinery":1.2,"Secondary refinery":-0.02,"Refined metals":0.02},
 {"year":2025,"Net response":1.84,"Direct melt scrap":-0.35,"Direct melt other":0.3,"Fabrication":-0.09,"Primary refinery":1.98,"Secondary refinery":-0.03,"Refined metals":0.03},
 {"year":2026,"Net response":2.26,"Direct melt scrap":-0.42,"Direct melt other":0.36,"Fabrication":-0.11,"Primary refinery":2.44,"Secondary refinery":-0.04,"Refined metals":0.03},
 {"year":2027,"Net response":3.1,"Direct melt scrap":-0.49,"Direct melt other":0.42,"Fabrication":-0.13,"Primary refinery":3.3,"Secondary refinery":-0.04,"Refined metals":0.04},
 {"year":2028,"Net response":3.68,"Direct melt scrap":-0.56,"Direct melt other":0.48,"Fabrication":-0.14,"Primary refinery":3.91,"Secondary refinery":-0.05,"Refined metals":0.04},
 {"year":2029,"Net response":4.44,"Direct melt scrap":-0.63,"Direct melt other":0.54,"Fabrication":-0.16,"Primary refinery":4.7,"Secondary refinery":-0.05,"Refined metals":0.05},
 {"year":2030,"Net response":5.15,"Direct melt scrap":-0.7,"Direct melt other":0.6,"Fabrication":-0.18,"Primary refinery":5.44,"Secondary refinery":-0.06,"Refined metals":0.05},
 {"year":2031,"Net response":5.69,"Direct melt scrap":-0.77,"Direct melt other":0.66,"Fabrication":-0.2,"Primary refinery":6.01,"Secondary refinery":-0.07,"Refined metals":0.06},
 {"year":2032,"Net response":6.3,"Direct melt scrap":-0.84,"Direct melt other":0.72,"Fabrication":-0.22,"Primary refinery":6.65,"Secondary refinery":-0.07,"Refined metals":0.06},
 {"year":2033,"Net response":7.15,"Direct melt scrap":-0.91,"Direct melt other":0.78,"Fabrication":-0.23,"Primary refinery":7.52,"Secondary refinery":-0.08,"Refined metals":0.07},
 {"year":2034,"Net response":7.78,"Direct melt scrap":-0.98,"Direct melt other":0.84,"Fabrication":-0.25,"Primary refinery":8.19,"Secondary refinery":-0.08,"Refined metals":0.07},
 {"year":2035,"Net response":8.4,"Direct melt scrap":-1.05,"Direct melt other":0.9,"Fabrication":-0.27,"Primary refinery":8.84,"Secondary refinery":-0.09,"Refined metals":0.08},
 {"year":2036,"Net response":8.95,"Direct melt scrap":-1.12,"Direct melt other":0.96,"Fabrication":-0.29,"Primary refinery":9.42,"Secondary refinery":-0.1,"Refined metals":0.08},
 {"year":2037,"Net response":9.45,"Direct melt scrap":-1.19,"Direct melt other":1.02,"Fabrication":-0.31,"Primary refinery":9.94,"Secondary refinery":-0.1,"Refined metals":0.09},
 {"year":2038,"Net response":10.1,"Direct melt scrap":-1.26,"Direct melt other":1.08,"Fabrication":-0.32,"Primary refinery":10.62,"Secondary refinery":-0.11,"Refined metals":0.09},
 {"year":2039,"Net response":10.8,"Direct melt scrap":-1.33,"Direct melt other":1.14,"Fabrication":-0.34,"Primary refinery":11.34,"Secondary refinery":-0.11,"Refined metals":0.1},
 {"year":2040,"Net response":11.6,"Direct melt scrap":-1.4,"Direct melt other":1.2,"Fabrication":-0.36,"Primary refinery":12.18,"Secondary refinery":-0.12,"Refined metals":0.1}]
},
"resolve":{"scale":{"color":"independent","fill":"independent"},"legend":{"color":"independent","fill":"independent"}},
"columns":1,
"align":"none",
"spacing":0,
"concat":[
 {"resolve":{"scale":{"color":"independent","fill":"independent"},"legend":{"color":"independent","fill":"independent"}},
  "spacing":14,
  "hconcat":[
  {"title":{"text":"a","anchor":"start","frame":"bounds","fontWeight":"bold","fontSize":19,"baseline":"alphabetic","offset":-34,"dx":1},
   "vconcat":[{
    "width":353,"height":261,
    "title":{"text":"Total China scrap imports","frame":"group","offset":-1},
    "layer":[
     {"data":{"name":"a_proj"},"mark":{"type":"area","opacity":0.3,"interpolate":"monotone"},
      "encoding":{"x":{"field":"year","type":"quantitative","scale":{"domain":[1998,2042.1],"nice":false,"zero":false},"axis":{"values":[2000,2010,2020,2030,2040],"format":"d","title":"Year"}},
       "y":{"field":"lo","type":"quantitative","scale":{"domain":[294,1885],"nice":false,"zero":false},"axis":{"values":[300,600,900,1200,1500,1800],"format":"d","title":"Total scrap imports (kt copper content)","titlePadding":7}},
       "y2":{"field":"hi"},
       "color":{"field":"s","type":"nominal","scale":{"domain":["Baseline","Alloyed ban","No.2 ban","<99% Cu ban"],"range":["#000000","#d4714a","#7b6157","#7c4a5e"]},"legend":null}}},
     {"data":{"name":"a_hist"},"mark":{"type":"line","strokeWidth":3,"color":"#000000"},
      "encoding":{"x":{"field":"year","type":"quantitative"},"y":{"field":"v","type":"quantitative"}}},
     {"data":{"name":"a_proj"},"mark":{"type":"line","strokeWidth":3,"interpolate":"monotone"},
      "encoding":{"x":{"field":"year","type":"quantitative"},"y":{"field":"v","type":"quantitative"},
       "color":{"field":"s","type":"nominal","scale":{"domain":["Baseline","Alloyed ban","No.2 ban","<99% Cu ban"],"range":["#000000","#d4714a","#7b6157","#7c4a5e"]},"legend":null}}},
     {"data":{"name":"a_lab"},"mark":{"type":"text","align":"left","baseline":"middle","fontSize":18},
      "encoding":{"x":{"field":"year","type":"quantitative"},"y":{"field":"v","type":"quantitative"},"text":{"field":"txt"},
       "color":{"field":"s","type":"nominal","scale":{"domain":["Baseline","Alloyed ban","No.2 ban","<99% Cu ban"],"range":["#000000","#d4714a","#7b6157","#7c4a5e"]},"legend":null}}}
    ]}]},
  {"resolve":{"scale":{"color":"independent","fill":"independent"},"legend":{"color":"independent","fill":"independent"}},
   "spacing":13,
   "hconcat":[
   {"title":{"text":"b","anchor":"start","frame":"bounds","fontWeight":"bold","fontSize":19,"baseline":"alphabetic","offset":-34,"dx":-4},
    "vconcat":[{
     "width":354,"height":261,
     "title":{"text":"China refining response, differing bans","frame":"group","offset":-1},
     "layer":[
      {"data":{"name":"b"},"mark":{"type":"area","opacity":0.25},
       "encoding":{"x":{"field":"year","type":"quantitative","scale":{"domain":[2016.86,2041.05],"nice":false,"zero":false},"axis":{"values":[2020,2024,2028,2032,2036,2040],"format":"d","title":"Year"}},
        "y":{"field":"lo","type":"quantitative","scale":{"domain":[-40.4,104.8],"nice":false,"zero":false},"axis":{"values":[-40,-20,0,20,40,60,80,100],"labelOverlap":false,"labelSeparation":0,"title":["Response relative to baseline","(Cumulative, % of 2020 value)"],"titlePadding":8}},
        "y2":{"field":"hi"},
        "color":{"field":"s","type":"nominal","scale":{"domain":["p99","pNo2","pAll","s99","sNo2","sAll","lab"],"range":["#1b6b4d","#1f9a6c","#4cc49e","#8c792b","#c9a83a","#e0c55a","#000000"]},"legend":null}}},
      {"data":{"name":"b"},"mark":{"type":"line","strokeWidth":2.5},
       "encoding":{"x":{"field":"year","type":"quantitative"},"y":{"field":"v","type":"quantitative","axis":{"values":[-40,-20,0,20,40,60,80,100],"labelOverlap":false}},
        "color":{"field":"s","type":"nominal","scale":{"domain":["p99","pNo2","pAll","s99","sNo2","sAll","lab"],"range":["#1b6b4d","#1f9a6c","#4cc49e","#8c792b","#c9a83a","#e0c55a","#000000"]},"legend":null}}},
      {"data":{"values":[{"z":0}]},"mark":{"type":"rule","color":"#000000","strokeWidth":2.5},
       "encoding":{"y":{"field":"z","type":"quantitative","axis":{"values":[-40,-20,0,20,40,60,80,100],"labelOverlap":false}}}},
      {"data":{"name":"b_lab"},"mark":{"type":"text","align":"left","baseline":"middle","fontSize":18},
       "encoding":{"x":{"field":"year","type":"quantitative"},"y":{"field":"v","type":"quantitative","axis":{"values":[-40,-20,0,20,40,60,80,100],"labelOverlap":false}},"text":{"field":"txt"},
        "color":{"field":"s","type":"nominal","scale":{"domain":["p99","pNo2","pAll","s99","sNo2","sAll","lab"],"range":["#1b6b4d","#1f9a6c","#4cc49e","#8c792b","#c9a83a","#e0c55a","#000000"]},"legend":null}}}
     ]}]},
   {"title":{"text":"c","anchor":"start","frame":"bounds","fontWeight":"bold","fontSize":19,"baseline":"alphabetic","offset":-34,"dx":-9},
    "vconcat":[{
     "width":355,"height":261,
     "title":{"text":"Regional CO₂-equivalent emissions responses","frame":"group","offset":-1},
     "layer":[
      {"data":{"name":"c"},"mark":{"type":"area","opacity":0.3},
       "encoding":{"x":{"field":"year","type":"quantitative","scale":{"domain":[2016.8,2041.05],"nice":false,"zero":false},"axis":{"values":[2020,2024,2028,2032,2036,2040],"format":"d","title":"Year"}},
        "y":{"field":"lo","type":"quantitative","scale":{"domain":[-6.66,12.81],"nice":false,"zero":false},"axis":{"values":[-5,0,5,10],"title":["CO₂-equivalent emissions response","(Cumulative, % of 2020 value)"],"titlePadding":3}},
        "y2":{"field":"hi"},
        "color":{"field":"s","type":"nominal","scale":{"domain":["china","g99","gNo2","gAll","row"],"range":["#1e9a6a","#2b3a98","#3b80c2","#45b8c8","#ec4528"]},"legend":null}}},
      {"data":{"name":"c"},"mark":{"type":"line","strokeWidth":2.5},
       "encoding":{"x":{"field":"year","type":"quantitative"},"y":{"field":"v","type":"quantitative"},
        "color":{"field":"s","type":"nominal","scale":{"domain":["china","g99","gNo2","gAll","row"],"range":["#1e9a6a","#2b3a98","#3b80c2","#45b8c8","#ec4528"]},"legend":null}}},
      {"data":{"name":"c_lab"},"mark":{"type":"text","align":"left","baseline":"middle","fontSize":17.5},
       "encoding":{"x":{"field":"year","type":"quantitative"},"y":{"field":"v","type":"quantitative"},"text":{"field":"txt"},
        "color":{"field":"s","type":"nominal","scale":{"domain":["china","g99","gNo2","gAll","row"],"range":["#1e9a6a","#2b3a98","#3b80c2","#45b8c8","#ec4528"]},"legend":null}}}
     ]}]}
   ]}
 ]},
 {"resolve":{"scale":{"color":"independent","fill":"independent"},"legend":{"color":"independent","fill":"independent"}},
  "spacing":10,
  "hconcat":[
  {"title":{"text":"d","anchor":"start","frame":"bounds","fontWeight":"bold","fontSize":19,"baseline":"alphabetic","offset":-27,"dx":-1},
   "vconcat":[{
    "width":305,"height":258,
    "title":{"text":["Global mining, refining, & scrap","responses, No.2 scrap ban"],"frame":"group","offset":-8},
    "layer":[
     {"data":{"name":"d"},"mark":{"type":"area","opacity":0.3},
      "encoding":{"x":{"field":"year","type":"quantitative","scale":{"domain":[2016.44,2041.2],"nice":false,"zero":false},"axis":{"values":[2020,2024,2028,2032,2036,2040],"format":"d","title":"Year"}},
       "y":{"field":"lo","type":"quantitative","scale":{"domain":[-4,4],"nice":false,"zero":false},"axis":{"values":[-4,-2,0,2,4],"title":["Response relative to baseline","(Cumulative, % of 2020 value)"],"titlePadding":5}},
       "y2":{"field":"hi"},
       "color":{"field":"s","type":"nominal","scale":{"domain":["mine","prim","tot","sec","scrap"],"range":["#2f7ebf","#1c4e98","#a6cfe6","#4192c9","#6aaed6"]},"legend":null}}},
     {"data":{"name":"d"},"mark":{"type":"line","strokeWidth":2.5},
      "encoding":{"x":{"field":"year","type":"quantitative"},"y":{"field":"v","type":"quantitative"},
       "color":{"field":"s","type":"nominal","scale":{"domain":["mine","prim","tot","sec","scrap"],"range":["#2f7ebf","#1c4e98","#a6cfe6","#4192c9","#6aaed6"]},"legend":null}}},
     {"data":{"name":"d_lab"},"mark":{"type":"text","align":"left","baseline":"middle","fontSize":16},
      "encoding":{"x":{"field":"year","type":"quantitative"},"y":{"field":"v","type":"quantitative"},"text":{"field":"txt"},
       "color":{"field":"s","type":"nominal","scale":{"domain":["mine","prim","tot","sec","scrap"],"range":["#2f7ebf","#1c4e98","#a6cfe6","#4192c9","#6aaed6"]},"legend":null}}}
    ]}]},
  {"resolve":{"scale":{"color":"independent","fill":"independent"},"legend":{"color":"independent","fill":"independent"}},
   "spacing":20,
   "hconcat":[
   {"title":{"text":"e","anchor":"start","frame":"bounds","fontWeight":"bold","fontSize":19,"baseline":"alphabetic","offset":-25,"dx":-1},
    "vconcat":[{
     "width":468,"height":257,
     "title":{"text":[" ","Global distribution of responses across bans and rates"],"frame":"group","dx":6,"offset":-4},
     "layer":[
      {"data":{"name":"e_band"},"mark":{"type":"rect","color":"#efefef"},
       "encoding":{"x":{"field":"lo","type":"quantitative","scale":{"domain":[-0.686,5.63],"nice":false,"zero":false},
         "axis":{"values":[0,1,2,3,4,5],"title":null,"labelFontSize":15,"labelLineHeight":16,"ticks":false,
          "labelExpr":"datum.value == 0 ? 'Mining' : datum.value == 1 ? ['Scrap','demand'] : datum.value == 2 ? ['Total','refining'] : datum.value == 3 ? ['Primary','refining'] : datum.value == 4 ? ['Secondary','refining'] : ['CO₂e','emissions']"}},
        "x2":{"field":"hi"}}},
      {"data":{"name":"e_viol"},"mark":{"type":"area","orient":"horizontal","opacity":0.5},
       "encoding":{"y":{"field":"v","type":"quantitative","scale":{"domain":[-4.44,7.65],"nice":false,"zero":false},"axis":{"values":[-4,-2,0,2,4,6],"title":["Cumulative response at 2040","(% of 2020 value)"],"titlePadding":9}},
        "x":{"field":"l","type":"quantitative"},"x2":{"field":"r"},"detail":{"field":"vid"},
        "fill":{"field":"ban","type":"nominal","scale":{"domain":["<99% Cu ban","No.2 ban","Alloyed ban"],"range":["#283593","#2e7ebf","#43bccb"]},"legend":null}}},
      {"data":{"name":"e_pt"},"mark":{"type":"circle","size":22,"opacity":1},
       "encoding":{"x":{"field":"pos","type":"quantitative"},"y":{"field":"v","type":"quantitative"},
        "color":{"field":"ban","type":"nominal","scale":{"domain":["Alloyed ban","No.2 ban","<99% Cu ban"],"range":["#43bccb","#2e7ebf","#283593"]},
         "legend":{"orient":"none","legendX":17,"legendY":9,"direction":"horizontal","title":null,"labelFontSize":17,"symbolSize":70,"symbolType":"circle","symbolStrokeWidth":0,"strokeColor":"#666666","cornerRadius":7,"padding":9,"fillColor":"#ffffff","columnPadding":10,"labelOffset":2,
          "encode":{"labels":{"fill":{"condition":[{"test":"datum.value === 'Alloyed ban'","value":"#43bccb"},{"test":"datum.value === 'No.2 ban'","value":"#2e7ebf"}],"value":"#283593"}},"legend":{"strokeWidth":{"value":2}}}}}}}
     ]}]},
   {"title":{"text":"f","anchor":"start","frame":"bounds","fontWeight":"bold","fontSize":19,"baseline":"alphabetic","offset":-30,"dx":0},
    "vconcat":[{
     "width":298,"height":258,
     "title":{"text":["China sectoral CO₂-equivalent","emissions response, No.2 scrap ban"],"frame":"group","offset":-2},
     "layer":[
      {"data":{"name":"f"},"transform":[{"fold":["Direct melt scrap","Direct melt other","Fabrication","Primary refinery","Secondary refinery","Refined metals"]}],
       "mark":{"type":"area"},
       "encoding":{"x":{"field":"year","type":"quantitative","scale":{"domain":[2016.8,2041.04],"nice":false,"zero":false},"axis":{"values":[2020,2024,2028,2032,2036,2040],"format":"d","title":"Year"}},
        "y":{"field":"value","type":"quantitative","stack":"zero","scale":{"domain":[-6.63,25.67],"nice":false,"zero":false},"axis":{"values":[-5,0,5,10,15,20,25],"title":["CO₂-equivalent emissions response","(Cumulative, % of 2020 value)"],"titlePadding":12}},
        "order":{"field":"key","sort":"ascending"},
        "color":{"field":"key","type":"nominal","scale":{"domain":["Net response","Direct melt scrap","Direct melt other","Fabrication","New traditional mines","Operating traditional mines","Primary refinery","Secondary refinery","Refined metals"],"range":["#000000","#9e0142","#d53e4f","#f46d43","#fee08b","#abdda4","#66c2a5","#3288bd","#5e4fa2"]},
         "legend":{"orient":"none","legendX":12,"legendY":11,"title":null,"labelFontSize":15,"labelLimit":0,"symbolType":"square","symbolSize":170,"rowPadding":0.5,"labelOffset":6,"symbolStrokeWidth":0,
          "encode":{"symbols":{"update":{"shape":{"signal":"datum.value === 'Net response' ? 'stroke' : 'square'"},"strokeWidth":{"signal":"datum.value === 'Net response' ? 3 : 0"},"stroke":{"signal":"datum.value === 'Net response' ? '#000000' : 'transparent'"}}}}}}}},
      {"data":{"name":"f"},"transform":[{"fold":["Net response"]}],
       "mark":{"type":"line","strokeWidth":3},
       "encoding":{"x":{"field":"year","type":"quantitative"},"y":{"field":"value","type":"quantitative"},
        "color":{"field":"key","type":"nominal","scale":{"domain":["Net response","Direct melt scrap","Direct melt other","Fabrication","New traditional mines","Operating traditional mines","Primary refinery","Secondary refinery","Refined metals"],"range":["#000000","#9e0142","#d53e4f","#f46d43","#fee08b","#abdda4","#66c2a5","#3288bd","#5e4fa2"]}}}}
     ]}]}
   ]}
 ]}
]
}
